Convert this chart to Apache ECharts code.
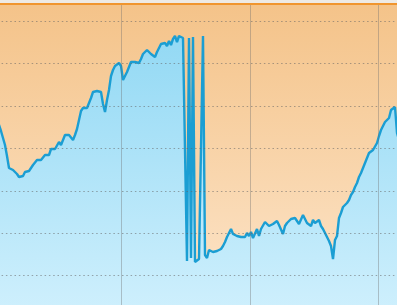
<!DOCTYPE html>
<html>
<head>
<meta charset="utf-8">
<script src="https://cdn.jsdelivr.net/npm/echarts@6/dist/echarts.min.js"></script>
<style>html,body{margin:0;padding:0;background:#eeeae4;}#chart{width:397px;height:305px;}</style>
</head>
<body>
<div id="chart"></div>
<script>
// Day index of the first sample and the sampled series values
const startDay = 0;
const values = [
  206,202,198,193,187,180,173,162,150,149,
  148,146,144,141,141,142,146,144,147,150,
  153,155,158,158,158,160,163,164,163,169,
  167,169,170,176,173,178,183,184,183,181,
  178,183,189,198,207,210,211,210,215,220,
  226,227,227,228,226,214,206,218,228,242,
  248,252,252,255,252,238,236,246,248,256,
  258,256,258,255,259,264,262,268,266,264,
  265,261,266,270,274,272,275,272,277,273,
  279,282,276,282,281,280,279,57,280,60,
  281,56,55,59,61,282,63,60,68,69,
  66,64,67,66,69,72,76,81,85,89,
  84,84,82,81,81,82,81,85,82,86,
  80,82,89,82,89,91,96,94,92,92,
  94,92,97,93,92,84,92,95,96,99,
  100,100,97,94,95,103,104,95,97,92,
  98,95,93,98,92,89,87,81,77,72,
  59,78,82,100,105,111,113,115,118,123,
  126,131,135,141,145,150,155,160,165,165,
  168,170,175,182,188,188,196,196,200,208,
  209,211,185,178
];
const days = values.map((_, i) => startDay + i);
const xTickStep = 64.25;
const yTickStep = 42.38;
const seriesData = days.map((d, i) => [d, values[i]]);

const chart = echarts.init(document.getElementById('chart'), null, {renderer: 'canvas'});
chart.setOption({
  animation: false,
  backgroundColor: '#eeeae4',
  grid: {
    left: -7, top: 4, width: 514, height: 314,
    outerBoundsMode: 'none',
    containLabel: false,
    show: true, borderWidth: 0,
    backgroundColor: {
      type: 'linear', x: 0, y: 0, x2: 0, y2: 1,
      colorStops: [
        {offset: 0, color: '#f4c389'},
        {offset: 1, color: '#fde6cc'}
      ]
    }
  },
  xAxis: {
    type: 'value', position: 'top', min: 0, max: 4 * xTickStep, interval: xTickStep,
    z: 3,
    axisLine: {show: true, onZero: false, lineStyle: {color: '#f0952e', width: 2}},
    axisTick: {show: false}, axisLabel: {show: false},
    splitLine: {show: true, lineStyle: {color: 'rgba(110,110,110,0.38)', width: 1, type: 'solid'}}
  },
  yAxis: {
    type: 'value', min: 0, max: 314, interval: yTickStep,
    z: 3,
    axisLine: {show: false}, axisTick: {show: false}, axisLabel: {show: false},
    splitLine: {show: true, lineStyle: {color: 'rgba(100,100,100,0.55)', width: 1, type: [1.5, 2.8]}}
  },
  series: [{
    type: 'line',
    data: seriesData,
    showSymbol: false,
    z: 2,
    lineStyle: {color: '#1b9ed3', width: 2.4},
    itemStyle: {color: '#1b9ed3'},
    areaStyle: {
      opacity: 1,
      color: {
        type: 'linear', x: 0, y: 0, x2: 0, y2: 1,
        colorStops: [
          {offset: 0, color: '#93d9f4'},
          {offset: 1, color: '#d0f0fd'}
        ]
      }
    }
  }]
});
</script>
</body>
</html>
